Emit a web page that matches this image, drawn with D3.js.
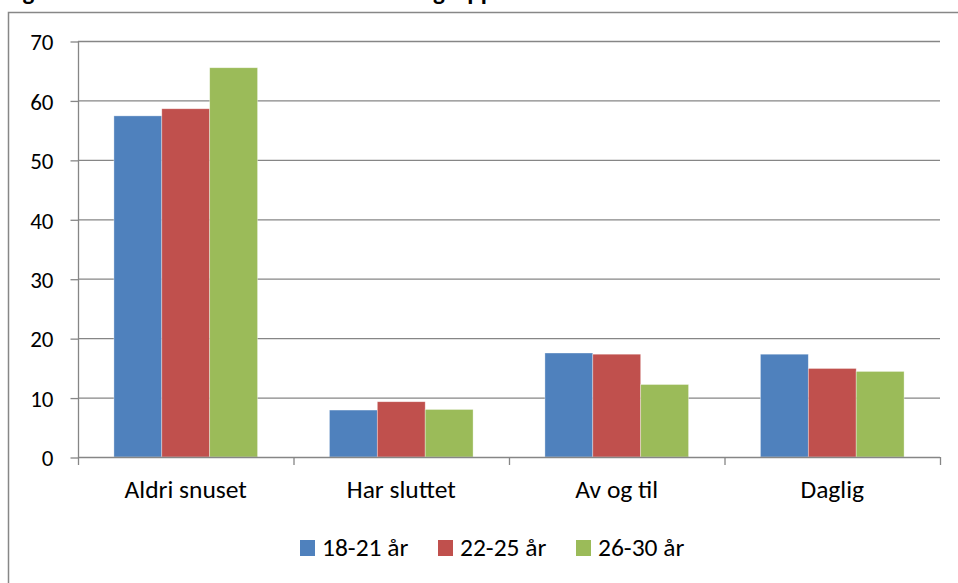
<!DOCTYPE html>
<html><head><meta charset="utf-8">
<script src="https://cdn.jsdelivr.net/npm/d3@7"></script>
<style>body{margin:0;background:#fff}svg{display:block}text{font-family:Carlito,Calibri,Lato,"Open Sans",sans-serif}</style>
</head><body>
<script>
const categories = ["Aldri snuset", "Har sluttet", "Av og til", "Daglig"];
const seriesNames = ["18-21 år", "22-25 år", "26-30 år"];
const values18_21 = [57.4, 7.9, 17.5, 17.3];
const values22_25 = [58.6, 9.3, 17.3, 14.9];
const values26_30 = [65.5, 8.0, 12.2, 14.4];
const seriesColors = ["#4F81BD", "#C0504D", "#9BBB59"];
const yTicks = [0, 10, 20, 30, 40, 50, 60, 70];
const titleText = "Figur 3: Snusbruk blant menn etter aldersgruppe";

(function () {
const series = [values18_21, values22_25, values26_30];
const W = 958, H = 583;
const svg = d3.select("body").append("svg").attr("width", W).attr("height", H);

// chart border
svg.append("rect").attr("x", 8.5).attr("y", 12.5).attr("width", 1000).attr("height", 1000)
  .attr("fill", "none").attr("stroke", "#878787").attr("stroke-width", 1.5);

// title (cut off at top, as in the reference)
svg.append("text").attr("x", 5).attr("y", 0).attr("font-weight", "bold").attr("font-size", 25)
  .attr("fill", "#000").text(titleText);

const pl = 78, pr = 940, pt = 41, pb = 457;
const x0 = d3.scaleBand().domain(categories).range([pl, pr]).paddingInner(0).paddingOuter(0);
const y = d3.scaleLinear().domain([0, 70]).range([pb, pt]);
const bw = x0.bandwidth() / 4.5;

// gridlines
svg.append("g").selectAll("line").data(yTicks.filter(d => d > 0)).join("line")
  .attr("x1", pl).attr("x2", pr).attr("y1", d => y(d) + 0.5).attr("y2", d => y(d) + 0.5)
  .attr("stroke", "#868686").attr("stroke-width", 1.3);

// bars
categories.forEach((c, ci) => {
  series.forEach((s, si) => {
    const xs = x0(c) + x0.bandwidth() / 2 - 1.5 * bw + si * bw;
    svg.append("rect").attr("x", xs).attr("y", y(s[ci])).attr("width", bw)
      .attr("height", y(0) - y(s[ci])).attr("fill", seriesColors[si])
      .attr("stroke", "#fff").attr("stroke-opacity", 0.5).attr("stroke-width", 0.7);
  });
});

// y axis
const yAxis = d3.axisLeft(y).tickValues(yTicks).tickSize(8).tickPadding(17);
const gy = svg.append("g").attr("transform", `translate(${pl + 0.5},0.5)`).call(yAxis);
gy.selectAll("path,line").attr("stroke", "#868686").attr("stroke-width", 1.3);
gy.selectAll("text").attr("font-size", 23).attr("fill", "#000").attr("dy", "0.36em")
  .style("font-family", "Carlito,Calibri,Lato,sans-serif");
gy.select(".domain").attr("d", `M0,${pt - 0.5}V${pb}`);

// x axis
const xLine = svg.append("g");
xLine.append("line").attr("x1", pl).attr("x2", pr).attr("y1", pb + 0.5).attr("y2", pb + 0.5)
  .attr("stroke", "#868686").attr("stroke-width", 1.3);
const bounds = categories.map(c => x0(c)).concat([pr]);
xLine.selectAll(".tk").data(bounds).join("line")
  .attr("x1", d => d + 0.5).attr("x2", d => d + 0.5).attr("y1", pb).attr("y2", pb + 8)
  .attr("stroke", "#868686").attr("stroke-width", 1.3);
svg.append("g").selectAll("text").data(categories).join("text")
  .attr("x", d => x0(d) + x0.bandwidth() / 2).attr("y", 498).attr("text-anchor", "middle")
  .attr("font-size", 25.5).attr("fill", "#000").text(d => d);

// legend
const legendX = [300, 438, 576];
const lg = svg.append("g");
seriesNames.forEach((n, i) => {
  lg.append("rect").attr("x", legendX[i]).attr("y", 540).attr("width", 15).attr("height", 16).attr("fill", seriesColors[i]);
  lg.append("text").attr("x", legendX[i] + 22).attr("y", 556).attr("font-size", 25.5).attr("fill", "#000").text(n);
});
})();
</script>
</body></html>
